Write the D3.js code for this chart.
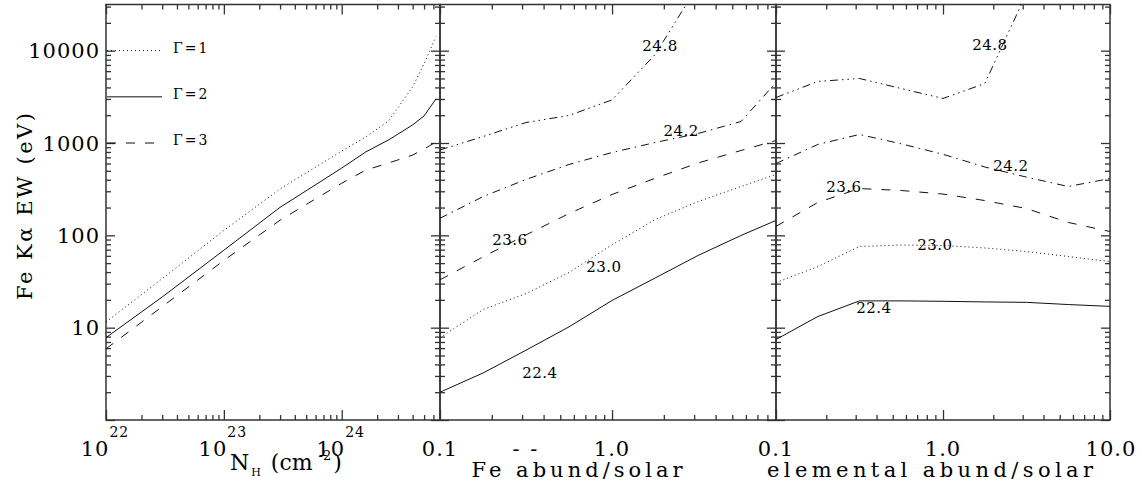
<!DOCTYPE html>
<html><head><meta charset="utf-8">
<script src="https://cdn.jsdelivr.net/npm/d3@7"></script>
<style>
html,body{margin:0;padding:0;background:#fff;}
svg{display:block;}
text{font-family:"DejaVu Serif","Liberation Serif",serif;fill:#000;}
</style></head>
<body>
<svg id="chart" width="1142" height="489"></svg>
<script>
// ---------- DATA ----------
// Panel 1: EW vs column density for three photon indices
const nhValues  = [1e22, 3e22, 1e23, 3e23, 1e24, 1.6e24, 2.5e24, 4e24, 5e24, 6.3e24];
const ewGamma1  = [11.5, 34, 113, 318, 818, 1160, 1735, 4060, 7230, 14200];
const ewGamma2  = [7.8, 21.5, 69, 201, 535, 800, 1080, 1570, 1965, 3000];
const ewGamma3  = [5.9, 16.9, 53.5, 146, 367, 509, 607, 741, 861, 1026];
const legendLabels = ["\u0393=1", "\u0393=2", "\u0393=3"];
const legendValues = [10000, 3162, 1000];

// Panel 2: EW vs Fe abundance, contours of log N_H
const feAbund   = [0.1, 0.178, 0.316, 0.562, 1.0, 1.78, 3.16, 5.62, 8.97];
const feEW_248  = [840, 1175, 1667, 1985, 2930, 9080, 50800];
const feEW_242  = [153, 263, 403, 585, 789, 1012, 1267, 1710, 4520];
const feEW_236  = [33, 58.5, 101, 172, 277, 415, 607, 830, 1064];
const feEW_230  = [7.8, 15.7, 23.4, 39.6, 79, 148, 232, 338, 456];
const feEW_224  = [2.0, 3.23, 5.7, 10.2, 19.7, 34.5, 60.5, 99.6, 145];

// Panel 3: EW vs elemental abundance
const elAbund   = [0.1, 0.178, 0.316, 0.562, 1.0, 1.78, 3.16, 5.62, 10.0];
const elEW_248  = [3110, 4640, 5000, 3890, 3035, 4410, 41600];
const elEW_242  = [600, 964, 1237, 980, 755, 550, 427, 338, 412];
const elEW_236  = [125, 227, 321, 306, 280, 238, 195, 138, 110];
const elEW_230  = [30.8, 45.9, 75.7, 78.5, 77.6, 73, 66.8, 59, 52];
const elEW_224  = [7.45, 13.2, 19.5, 19.5, 19.3, 19.0, 18.8, 17.8, 17.0];

const contourLevels = ["24.8", "24.2", "23.6", "23.0", "22.4"];
// label positions (abundance, EW)
const feLabelX = [1.90, 2.52, 0.255, 0.897, 0.381];
const feLabelY = [11300, 1350, 90.5, 46, 3.3];
const elLabelX = [1.91, 2.55, 0.255, 0.895, 0.386];
const elLabelY = [11600, 577, 341, 80, 16.5];

const yTickValues = [10, 100, 1000, 10000];
const yTickLabels = ["10", "100", "1000", "10000"];
const nhTickValues = [1e22, 1e23, 1e24];
const nhTickExp = ["22", "23", "24"];
const feTickValues = [0.1, 1.0];
const feTickLabels = ["0.1", "1.0"];
const elTickValues = [0.1, 1.0, 10.0];
const elTickLabels = ["0.1", "1.0", "10.0"];

// ---------- LAYOUT ----------
const svg = d3.select("#chart");
const yTop = 4.5, yBottom = 420;
const y = d3.scaleLog().domain([1, Math.pow(10, 4.5)]).range([yBottom, yTop]);
const x1 = d3.scaleLog().domain([1e22, Math.pow(10, 24.834)]).range([106, 440]);
const x2 = d3.scaleLog().domain([0.1, Math.pow(10, 0.953)]).range([440, 776]);
const x3 = d3.scaleLog().domain([0.1, 10]).range([776, 1110]);

const frameColor = "#333";
const lineColor = "#111";
const styles = {
  solid: null,
  dotted: "1,3",
  dashed: "9,10",
  dashdot: "8,5,1.5,5",
  dash3dot: "8,4,1.5,4,1.5,4,1.5,4"
};

function allTicks(lo, hi) {
  const out = [];
  for (let e = Math.floor(Math.log10(lo)) - 1; e <= Math.ceil(Math.log10(hi)); e++) {
    for (let k = 1; k <= 9; k++) {
      const v = k * Math.pow(10, e);
      if (v >= lo * 0.9999 && v <= hi * 1.0001) out.push(v);
    }
  }
  return out;
}
const isMajor = v => Math.abs(Math.log10(v) - Math.round(Math.log10(v))) <= 1e-6;

function drawPanel(xs, id) {
  const g = svg.append("g");
  const [xa, xb] = xs.range();
  const xd = xs.domain();
  const xt = allTicks(xd[0], xd[1]);
  const xminor = xt.filter(v => !isMajor(v));
  const xmajor = xt.filter(isMajor);
  const yd = y.domain();
  const yt = allTicks(yd[0], yd[1]);
  const yminor = yt.filter(v => !isMajor(v));
  const ymajor = yt.filter(isMajor);

  const addAxis = (axis, transform) => {
    const a = g.append("g").attr("transform", transform).call(axis);
    a.select(".domain").remove();
    a.selectAll("line").attr("stroke", frameColor).attr("stroke-width", 1.3);
    a.selectAll("text").remove();
  };
  addAxis(d3.axisBottom(xs).tickValues(xminor).tickSize(-5).tickFormat(""), `translate(0,${yBottom})`);
  addAxis(d3.axisBottom(xs).tickValues(xmajor).tickSize(-10).tickFormat(""), `translate(0,${yBottom})`);
  addAxis(d3.axisTop(xs).tickValues(xminor).tickSize(-5).tickFormat(""), `translate(0,${yTop})`);
  addAxis(d3.axisTop(xs).tickValues(xmajor).tickSize(-10).tickFormat(""), `translate(0,${yTop})`);
  addAxis(d3.axisLeft(y).tickValues(yminor).tickSize(-5).tickFormat(""), `translate(${xa},0)`);
  addAxis(d3.axisLeft(y).tickValues(ymajor).tickSize(-9).tickFormat(""), `translate(${xa},0)`);
  addAxis(d3.axisRight(y).tickValues(yminor).tickSize(-5).tickFormat(""), `translate(${xb},0)`);
  addAxis(d3.axisRight(y).tickValues(ymajor).tickSize(-9).tickFormat(""), `translate(${xb},0)`);

  g.append("rect").attr("x", xa).attr("y", yTop).attr("width", xb - xa).attr("height", yBottom - yTop)
    .attr("fill", "none").attr("stroke", frameColor).attr("stroke-width", 1.5);

  svg.append("clipPath").attr("id", "clip" + id).append("rect")
    .attr("x", xa).attr("y", yTop).attr("width", xb - xa).attr("height", yBottom - yTop);
  return g.append("g").attr("clip-path", `url(#clip${id})`);
}

function drawCurve(layer, xs, xv, yv, dash) {
  const pts = yv.map((v, i) => [xv[i], v]);
  const line = d3.line().x(d => xs(d[0])).y(d => y(d[1]));
  layer.append("path").attr("d", line(pts)).attr("fill", "none")
    .attr("stroke", lineColor).attr("stroke-width", 1)
    .attr("stroke-dasharray", dash);
}

// Panel 1
const L1 = drawPanel(x1, 1);
drawCurve(L1, x1, nhValues, ewGamma1, styles.dotted);
drawCurve(L1, x1, nhValues, ewGamma2, styles.solid);
drawCurve(L1, x1, nhValues, ewGamma3, styles.dashed);
const legendDash = [styles.dotted, styles.solid, styles.dashed];
legendValues.forEach((v, i) => {
  svg.append("line").attr("x1", 107).attr("x2", 162).attr("y1", y(v)).attr("y2", y(v))
    .attr("stroke", lineColor).attr("stroke-width", 1).attr("stroke-dasharray", legendDash[i]);
  svg.append("text").attr("x", 173).attr("y", y(v) + 2).attr("font-size", 14)
    .attr("letter-spacing", 2).text(legendLabels[i]);
});

// Panel 2
const L2 = drawPanel(x2, 2);
const feSeries = [feEW_248, feEW_242, feEW_236, feEW_230, feEW_224];
const contourDash = [styles.dash3dot, styles.dashdot, styles.dashed, styles.dotted, styles.solid];
feSeries.forEach((s, i) => drawCurve(L2, x2, feAbund, s, contourDash[i]));

// Panel 3
const L3 = drawPanel(x3, 3);
const elSeries = [elEW_248, elEW_242, elEW_236, elEW_230, elEW_224];
elSeries.forEach((s, i) => drawCurve(L3, x3, elAbund, s, contourDash[i]));

// contour labels
function contourLabels(xs, lx, ly) {
  contourLevels.forEach((t, i) => {
    svg.append("text").attr("x", xs(lx[i])).attr("y", y(ly[i]) + 5.5)
      .attr("text-anchor", "middle").attr("font-size", 15).attr("letter-spacing", 0.5)
      .text(t);
  });
}
contourLabels(x2, feLabelX, feLabelY);
contourLabels(x3, elLabelX, elLabelY);

// y tick labels
yTickValues.forEach((v, i) => {
  svg.append("text").attr("x", 100).attr("y", y(v) + 7.5).attr("text-anchor", "end")
    .attr("font-size", 21).attr("letter-spacing", 1).text(yTickLabels[i]);
});

// x tick labels
const tickBase = 456;
nhTickValues.forEach((v, i) => {
  const t = svg.append("text").attr("x", x1(v) - 1).attr("y", tickBase).attr("text-anchor", "middle")
    .attr("font-size", 21).attr("letter-spacing", 1);
  t.append("tspan").text("10");
  t.append("tspan").attr("dy", -19).attr("font-size", 14).text(nhTickExp[i]);
});
feTickValues.forEach((v, i) => {
  svg.append("text").attr("x", x2(v)).attr("y", tickBase).attr("text-anchor", "middle")
    .attr("font-size", 21).attr("letter-spacing", 1).text(feTickLabels[i]);
});
svg.append("text").attr("x", 526).attr("y", tickBase).attr("text-anchor", "middle")
  .attr("font-size", 21).attr("letter-spacing", 2).text("- -");
elTickValues.forEach((v, i) => {
  svg.append("text").attr("x", x3(v) + (i === 2 ? 1 : 0)).attr("y", tickBase).attr("text-anchor", "middle")
    .attr("font-size", 21).attr("letter-spacing", 1).text(elTickLabels[i]);
});

// axis titles
const nh = svg.append("text").attr("x", 230).attr("y", 470).attr("font-size", 22);
nh.append("tspan").text("N");
nh.append("tspan").attr("font-size", 11).attr("dx", 2).attr("dy", 6).text("H");
nh.append("tspan").attr("dy", -6).attr("dx", 10).text("(cm");
nh.append("tspan").attr("font-size", 13).attr("dx", 6).attr("dy", -10).text("-2");
nh.append("tspan").attr("dx", 2).attr("dy", 10).text(")");

svg.append("text").attr("x", 577).attr("y", 477).attr("text-anchor", "middle")
  .attr("font-size", 21).attr("textLength", 211).attr("lengthAdjust", "spacing").text("Fe abund/solar");
svg.append("text").attr("x", 930).attr("y", 477).attr("text-anchor", "middle")
  .attr("font-size", 21).attr("textLength", 326).attr("lengthAdjust", "spacing").text("elemental abund/solar");
svg.append("text").attr("transform", "translate(32,206.5) rotate(-90)").attr("text-anchor", "middle")
  .attr("font-size", 21).attr("textLength", 187).attr("lengthAdjust", "spacing").text("Fe K\u03b1 EW (eV)");
</script>
</body></html>
